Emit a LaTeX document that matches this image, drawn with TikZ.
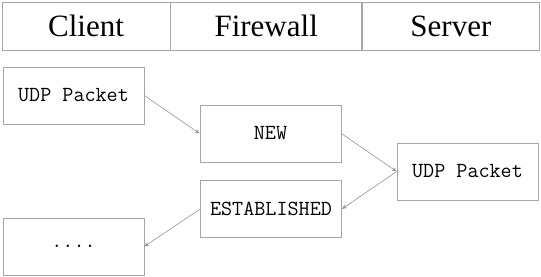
\documentclass[tikz,border=0pt]{standalone}
\usepackage{fontspec}
\setmainfont{Liberation Serif}
\usetikzlibrary{arrows.meta, positioning}

\begin{document}
\begin{tikzpicture}[x=1pt, y=-1pt,
  head/.style={draw=gray!70, line width=0.7pt, minimum height=48pt, inner sep=0pt,
               font=\fontsize{31}{31}\selectfont},
  box/.style={draw=gray!70, line width=0.7pt, minimum width=141pt, minimum height=57pt,
              inner sep=0pt, font=\fontsize{21.5}{21.5}\selectfont\ttfamily},
  link/.style={draw=gray!85, line width=0.6pt, -{Stealth[length=5pt, width=4pt]}}
]
  \useasboundingbox (0,0) rectangle (541,276);
  % header row
  \node[head, minimum width=168pt] (client) at (86,26) {Client};
  \node[head, minimum width=191pt, right=0pt of client] (firewall) {Firewall};
  \node[head, minimum width=177pt, right=0pt of firewall] (server) {Server};
  % packets and states
  \node[box] (udp) at (73.5,95.5) {UDP Packet};
  \node[box] (new) at (270.5,133.5) {NEW};
  \node[box] (est) at (271,209) {ESTABLISHED};
  \node[box] (srv) at (467.5,171.5) {UDP Packet};
  \node[box] (more) at (73.5,246.5) {....};
  \draw[link] (udp.east) -- (new.west);
  \draw[link] (new.east) -- (srv.west);
  \draw[link] (srv.west) -- (est.east);
  \draw[link] (est.west) -- (more.east);
\end{tikzpicture}
\end{document}
